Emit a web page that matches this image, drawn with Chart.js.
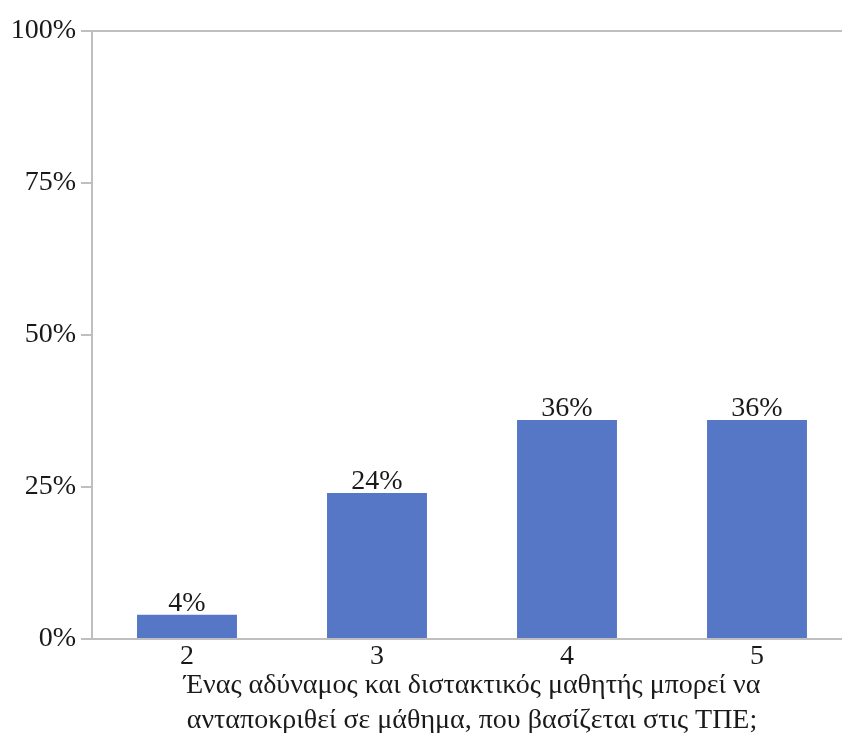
<!DOCTYPE html>
<html>
<head>
<meta charset="utf-8">
<script src="https://cdn.jsdelivr.net/npm/chart.js@4"></script>
<style>
  html, body { margin: 0; padding: 0; background: #fff; overflow: hidden; }
  #wrap { position: absolute; left: 0; top: 0; width: 860px; height: 760px; }
</style>
</head>
<body>
<div id="wrap"><canvas id="barChart" width="860" height="760"></canvas></div>
<script>
const categories = ["2", "3", "4", "5"];
const percentages = [4, 24, 36, 36];
const yTicks = [0, 25, 50, 75, 100];
const axisTitle = [
  "Ένας αδύναμος και διστακτικός μαθητής μπορεί να",
  "ανταποκριθεί σε μάθημα, που βασίζεται στις ΤΠΕ;"
];

const serif = "'Liberation Serif', 'Times New Roman', serif";
const lineGray = "#bfbfbf";
const barBlue = "#5577c6";

const barLabels = {
  id: "barLabels",
  afterDatasetsDraw(chart) {
    const { ctx } = chart;
    const meta = chart.getDatasetMeta(0);
    ctx.save();
    ctx.font = "28px " + serif;
    ctx.fillStyle = "#1a1a1a";
    ctx.textAlign = "center";
    ctx.textBaseline = "alphabetic";
    meta.data.forEach((bar, i) => {
      ctx.fillText(percentages[i] + "%", bar.x, bar.y - 4);
    });
    ctx.restore();
  },
};

new Chart(document.getElementById("barChart"), {
  type: "bar",
  data: {
    labels: categories,
    datasets: [
      {
        data: percentages,
        backgroundColor: barBlue,
        borderWidth: 0,
        categoryPercentage: 1,
        barPercentage: 0.526,
      },
    ],
  },
  options: {
    responsive: false,
    animation: false,
    devicePixelRatio: 1,
    layout: { padding: { top: 31, right: 8, left: 0, bottom: 0 } },
    plugins: {
      legend: { display: false },
      tooltip: { enabled: false },
    },
    scales: {
      x: {
        grid: { display: false, drawTicks: false },
        border: { color: lineGray, width: 2 },
        ticks: {
          color: "#1a1a1a",
          padding: 1,
          font: { family: serif, size: 28 },
        },
        title: {
          display: true,
          text: axisTitle,
          color: "#1a1a1a",
          font: { family: serif, size: 28, lineHeight: 1.25 },
          padding: { top: 0, bottom: 22 },
        },
        afterFit: (scale) => { scale.height = 121; },
      },
      y: {
        min: 0,
        max: 100,
        afterBuildTicks: (scale) => { scale.ticks = yTicks.map((v) => ({ value: v })); },
        grid: {
          color: (c) => (c.tick && c.tick.value === 100 ? lineGray : "transparent"),
          tickColor: lineGray,
          tickLength: 11,
          lineWidth: 2,
        },
        border: { color: lineGray, width: 2 },
        ticks: {
          color: "#1a1a1a",
          padding: 5,
          font: { family: serif, size: 28 },
          callback: (v) => v + "%",
        },
        afterFit: (scale) => { scale.width = 92; },
      },
    },
  },
  plugins: [barLabels],
});
</script>
</body>
</html>
